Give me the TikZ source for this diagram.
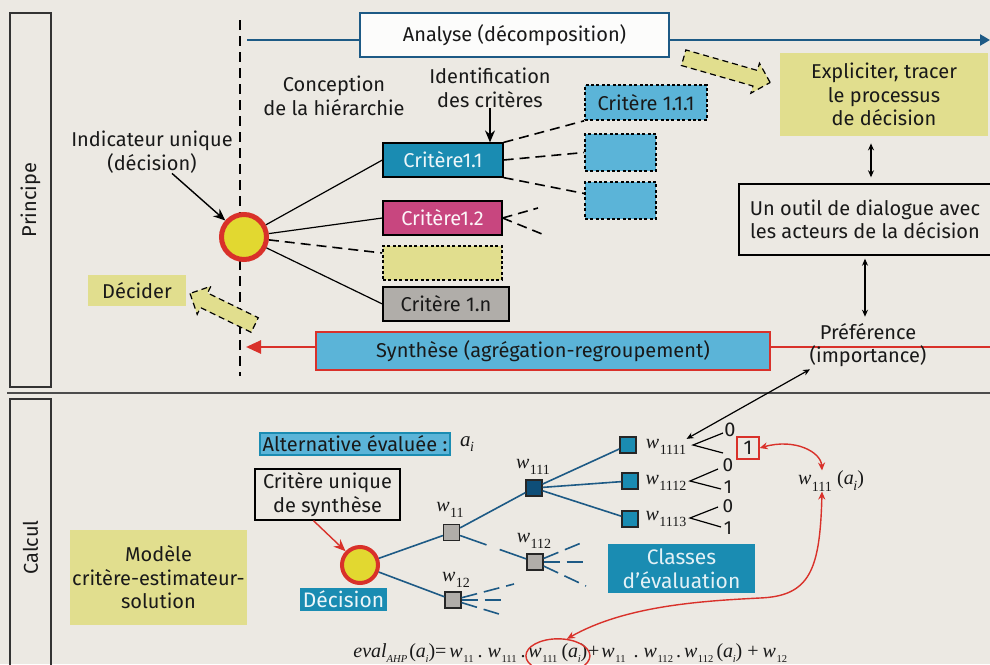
\documentclass[tikz,border=0pt]{standalone}
\usepackage{fontspec}
\setmainfont{Fira Sans}
\newfontfamily\tms{Liberation Serif}
\usetikzlibrary{arrows.meta,shapes.geometric,shapes.arrows,calc}
\definecolor{bg}{RGB}{236,233,227}
\definecolor{tealc}{RGB}{26,140,178}
\definecolor{lblue}{RGB}{91,180,216}
\definecolor{magen}{RGB}{200,70,127}
\definecolor{pyel}{RGB}{225,222,142}
\definecolor{gry}{RGB}{176,173,169}
\definecolor{rd}{RGB}{217,49,42}
\definecolor{cyel}{RGB}{226,216,48}
\definecolor{dblue}{RGB}{29,90,133}
\definecolor{navy}{RGB}{14,78,120}
\definecolor{txtc}{RGB}{25,25,25}
\newcommand{\subsz}{\fontsize{7}{7}\selectfont}
\newcommand{\wl}[1]{{\tms\itshape w}\kern0.3pt\raisebox{-0.6ex}{\tms\subsz #1}}
\newcommand{\ai}{{\tms(\itshape a\kern-0.2pt\raisebox{-0.6ex}{\subsz i}\upshape)}}
\tikzset{
  lbl/.style={align=center, inner sep=0pt, text=txtc},
  bx/.style={align=center, inner sep=0pt, text=txtc},
  thinln/.style={line width=0.6pt, black},
  dsh/.style={line width=0.8pt, black, dash pattern=on 5pt off 3pt},
  dotb/.style={draw=black, line width=0.8pt, dash pattern=on 1.5pt off 1.2pt},
  sq/.style={draw=black!85, line width=0.6pt, minimum size=8pt, inner sep=0pt},
  bl/.style={dblue, line width=0.8pt},
  bldash/.style={dblue, line width=0.8pt, dash pattern=on 14pt off 7pt},
  blfan/.style={dblue, line width=0.8pt, dash pattern=on 8pt off 3.5pt},
  dbl/.style={line width=0.6pt, black, {Stealth[length=3.5pt,width=3pt]}-{Stealth[length=3.5pt,width=3pt]}},
  arr/.style={line width=0.7pt, black, -{Stealth[length=6pt,width=5pt]}},
  rarr/.style={line width=0.7pt, rd, -{Stealth[length=6pt,width=5pt]}},
  rdbl/.style={line width=0.7pt, rd, {Stealth[length=4pt,width=3.5pt]}-{Stealth[length=4pt,width=3.5pt]}},
  fat/.style={single arrow, draw=black, line width=0.6pt, dash pattern=on 3pt off 2pt, fill=pyel,
     inner sep=3.75pt, single arrow head extend=3.75pt, single arrow head indent=0pt},
  brn/.style={line width=0.6pt, black},
  frm/.style={inner sep=0pt, text=txtc, font=\tms\fontsize{10}{11}\selectfont\def\subsz{\fontsize{5.3}{6}\selectfont}}
}
\begin{document}
\begin{tikzpicture}[x=0.5pt,y=-0.5pt, font=\fontsize{10}{11.75}\selectfont]
\useasboundingbox (0,0) rectangle (990,664);
\clip (0,0) rectangle (990,664);
\fill[bg] (0,0) rectangle (990,664);

% side boxes
\node[draw=black!80, line width=0.8pt, rotate=90, minimum width=187pt, minimum height=20.5pt, inner sep=0, text=txtc] (pbox) at (30.5,200) {Principe};
\node[draw=black!80, line width=0.8pt, rotate=90, minimum width=148.5pt, minimum height=20.5pt, inner sep=0, text=txtc] (cbox) at (30.5,547.5) {Calcul};
\coordinate (sepL) at (7,393);
\coordinate (sepR) at (991,393);
\draw[line width=0.9pt, black!70] (sepL) -- (sepR);

% vertical dashed line
\coordinate (vT) at (240,20);
\coordinate (vB) at (240,376);
\draw[line width=0.8pt, black, dash pattern=on 5pt off 3pt] (vT) -- (vB);

% top blue line + analyse
\coordinate (topL) at (247,40);
\coordinate (topR) at (990,40);
\draw[dblue, line width=1.3pt, -{Triangle[length=5pt,width=5.5pt]}] (topL) -- (topR);
\node[bx, draw=dblue, line width=1pt, fill=white!85!bg, minimum width=154.5pt, minimum height=22pt] (analyse) at (514.5,35) {Analyse (décomposition)};

% red line + synthese
\coordinate (redR) at (991,347);
\coordinate (redL) at (246,347);
\draw[rd, line width=1.3pt, -{Triangle[length=7.5pt,width=6.5pt]}] (redR) -- (redL);
\node[bx, draw=rd, line width=0.8pt, fill=lblue, minimum width=227pt, minimum height=19pt] (synth) at (543,351) {Synthèse (agrégation-regroupement)};

% labels
\node[lbl] (concep) at (334,96) {Conception\\de la hiérarchie};
\node[lbl] (ident) at (490,88) {Identification\\des critères};
\node[lbl] (indic) at (152,152) {Indicateur unique\\(décision)};
\node[lbl] (pref) at (868,345) {Préférence\\(importance)};

% criteria boxes
\node[bx, draw=black, line width=0.6pt, fill=tealc, text=white!92!tealc, minimum width=60pt, minimum height=17pt] (c11) at (443,160) {Critère1.1};
\node[bx, draw=black, line width=0.6pt, fill=magen, text=white!95!magen, minimum width=59.5pt, minimum height=17pt] (c12) at (442.5,218) {Critère1.2};
\node[bx, dotb, fill=pyel, minimum width=59.5pt, minimum height=17pt] (cy) at (442.5,263) {};
\node[bx, draw=black, line width=0.6pt, fill=gry, minimum width=63pt, minimum height=17pt] (c1n) at (446,304) {Critère 1.n};
\node[bx, dotb, fill=lblue, minimum width=61pt, minimum height=17.5pt] (c111) at (646,102.5) {Critère 1.1.1};
\node[bx, dotb, fill=lblue, minimum width=35.5pt, minimum height=18.5pt] (c112) at (620.5,152.5) {};
\node[bx, dotb, fill=lblue, minimum width=35.5pt, minimum height=18.5pt] (c113) at (620.5,200.5) {};

% main circle
\node[circle, draw=rd, line width=2.5pt, fill=cyel, minimum size=22.5pt, inner sep=0] (tc) at (244,237) {};

\draw[thinln] (tc) -- (c11.west);
\draw[thinln] (tc) -- (c12.west);
\draw[dsh] (tc) -- ([yshift=5pt]cy.west);
\draw[thinln] (tc) -- (c1n.west);
\draw[dsh] (c11.north east) -- (c111.south west);
\draw[dsh] (c11.east) -- (c112.west);
\draw[dsh] (c11.south east) -- ([yshift=3.5pt]c113.west);
\coordinate (e1) at (538,208);
\coordinate (e2) at (542,234);
\draw[dsh] (c12.east) -- (e1);
\draw[dsh] (c12.east) -- (e2);

\draw[arr] ([xshift=10pt]indic.south) -- (tc);
\draw[arr] (ident.south) -- (ident.south |- c11.north);

% right boxes
\node[bx, fill=pyel, minimum width=104pt, minimum height=41.5pt] (expl) at (884,94.5) {Expliciter, tracer\\le processus\\de décision};
\node[bx, draw=black, line width=0.7pt, minimum width=126pt, minimum height=35.5pt] (outil) at (865,219.5) {Un outil de dialogue avec\\les acteurs de la décision};
\draw[dbl, shorten <=3.5pt, shorten >=3pt] ([xshift=-6.5pt]expl.south) -- ([xshift=3pt]outil.north);
\draw[dbl, shorten <=1.5pt, shorten >=3pt] (outil.south) -- (outil.south |- pref.north);

\node[bx, fill=pyel, minimum width=49pt, minimum height=15.5pt] (decider) at (137,290.5) {Décider};

% fat dashed arrows
\node[fat, minimum height=45pt, rotate=-16] (fa1) at (723,69) {};
\node[fat, minimum height=36pt, rotate=154] (fa2) at (226,311) {};

% ---------------- Calcul ----------------
\node[bx, draw=tealc, line width=0.6pt, fill=lblue, minimum width=95pt, minimum height=11pt] (alt) at (355,444) {Alternative évaluée :};
\node[lbl, font=\tms\fontsize{10.5}{12}\selectfont] (altai) at (467,444) {\itshape a\kern-0.2pt\raisebox{-0.6ex}{\subsz i}};
\node[bx, draw=black, line width=0.7pt, minimum width=72.5pt, minimum height=25.5pt] (crit) at (327.5,494.5) {Critère unique\\de synthèse};
\node[bx, fill=pyel, minimum width=88.5pt, minimum height=47.5pt] (modele) at (158.5,577.5) {Modèle\\critère-estimateur-\\solution};
\node[circle, draw=rd, line width=2pt, fill=cyel, minimum size=18pt, inner sep=0] (dc) at (360,565) {};
\node[bx, fill=tealc, text=white!92!tealc, font=\fontsize{10.5}{12}\selectfont, minimum width=43.5pt, minimum height=11.5pt] (decision) at (343.5,599.5) {Décision};
\node[bx, fill=tealc, text=white!88!tealc, font=\fontsize{10.5}{12}\selectfont, minimum width=73.5pt, minimum height=24.5pt] (classes) at (681.5,568.5) {Classes\\d’évaluation};
\draw[rarr] ([xshift=-7pt]crit.south) -- (dc);

% tree squares
\node[sq, fill=gry] (s11) at (451.5,532.5) {};
\node[sq, fill=gry] (s12) at (453,600) {};
\node[sq, fill=navy] (s111) at (534,488) {};
\node[sq, fill=gry] (s112) at (535,562) {};
\node[sq, fill=tealc] (s1111) at (628,445) {};
\node[sq, fill=tealc] (s1112) at (630,481) {};
\node[sq, fill=tealc] (s1113) at (630,519) {};

\node[lbl] (lw11) at (450,510) {\wl{11}};
\node[lbl] (lw12) at (456,580) {\wl{12}};
\node[lbl] (lw111) at (533,467) {\wl{111}};
\node[lbl] (lw112) at (534,541) {\wl{112}};
\node[lbl] (lw1111) at (666,447) {\wl{1111}};
\node[lbl] (lw1112) at (666,483) {\wl{1112}};
\node[lbl] (lw1113) at (666,519) {\wl{1113}};

\draw[bl] (dc) -- (s11);
\draw[bl] (dc) -- (s12);
\draw[bl] (s11) -- (s111);
\draw[bl] (s111) -- (s1111);
\draw[bl] (s111) -- (s1112);
\draw[bl] (s111) -- (s1113);
\draw[bldash] (s11) -- (s112);
\coordinate (f1) at (586,541);
\coordinate (f2) at (583,562);
\coordinate (f3) at (586,586);
\draw[blfan] (s112) -- (f1);
\draw[blfan] (s112) -- (f2);
\draw[blfan] (s112) -- (f3);
\coordinate (g1) at (514,584);
\coordinate (g2) at (501,600);
\coordinate (g3) at (499,614);
\draw[blfan] (s12) -- (g1);
\draw[blfan] (s12) -- (g2);
\draw[blfan] (s12) -- (g3);

% 0/1 branches
\coordinate (v1) at (693,445);
\coordinate (u1) at (723,433);
\coordinate (d1) at (723,453);
\coordinate (v2) at (690,481);
\coordinate (u2) at (718,469);
\coordinate (d2) at (721,489);
\coordinate (v3) at (690,518);
\coordinate (u3) at (718,507);
\coordinate (d3) at (721,527);
\draw[brn] (u1) -- (v1) -- (d1);
\draw[brn] (u2) -- (v2) -- (d2);
\draw[brn] (u3) -- (v3) -- (d3);
\node[lbl] (z1) at (730,430) {0};
\node[bx, draw=rd, line width=0.7pt, minimum size=11pt] (one) at (748,448) {1};
\node[lbl, font=\fontsize{9.5}{10}\selectfont] (z2) at (728,465) {0};
\node[lbl, font=\fontsize{9.5}{10}\selectfont] (o2) at (728,487) {1};
\node[lbl, font=\fontsize{9.5}{10}\selectfont] (z3) at (728,506) {0};
\node[lbl, font=\fontsize{9.5}{10}\selectfont] (o3) at (728,528) {1};

\node[lbl] (wai) at (831,481) {\wl{111} \ai};

\draw[dbl] ([xshift=-29pt,yshift=-1pt]pref.south) -- (lw1111.north east);

% formula
\node[frm, anchor=base west] (form1) at (353,657)
  {{\itshape eval}\raisebox{-0.6ex}{\fontsize{5.3}{6}\selectfont\itshape AHP}\kern1pt\ai=\kern1.5pt\wl{11}\kern2pt.\kern2.5pt\wl{111}\kern2pt.};
\node[frm, anchor=base west] (form2) at ([xshift=1pt]form1.base east) {\wl{111}\kern2pt\ai};
\node[frm, anchor=base west] (form3) at (form2.base east) {+\kern1pt\wl{11}\kern4pt.\kern2.5pt\wl{112}\kern1.5pt.\kern1.5pt\wl{112}\kern1.5pt\ai\kern2.5pt+\kern2pt\wl{12}};
\node[ellipse, draw=rd, line width=0.7pt, minimum width=32pt, minimum height=17pt, inner sep=0] (ell) at ([yshift=-1.5pt]form2.center) {};

\draw[rdbl] (one.east) .. controls (795,438) and (821,452) .. ([xshift=-4.5pt]wai.north);
\draw[rdbl] ([xshift=-4.5pt]wai.south) .. controls (820,570) and (810,596) .. (760,598) .. controls (700,601) and (625,606) .. (ell.62);
\end{tikzpicture}
\end{document}
